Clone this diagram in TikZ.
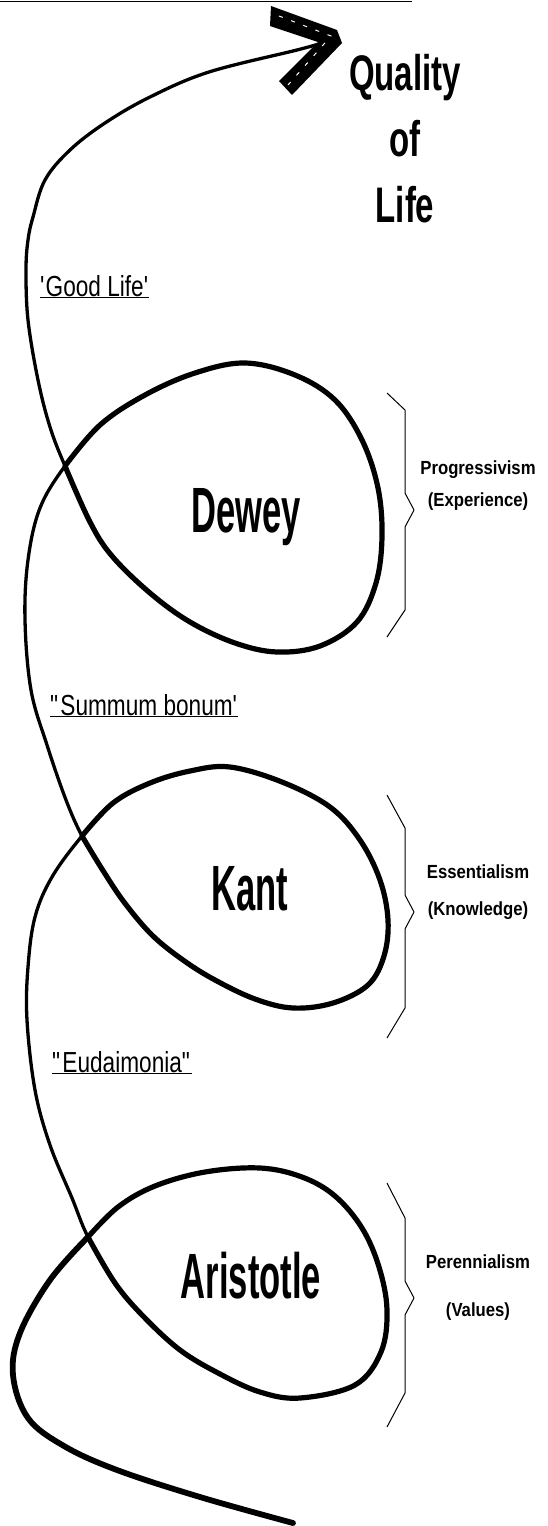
\documentclass[tikz,border=0pt]{standalone}
\usepackage{fontspec}
\newfontfamily\thinkerfont[FakeStretch=0.54]{Liberation Sans}
\newfontfamily\goalfont[FakeStretch=0.66]{Liberation Sans}
\newfontfamily\mottofont[FakeStretch=0.78]{Liberation Sans}
\newfontfamily\schoolfont[FakeStretch=0.88]{Liberation Sans}

\tikzset{
  strand/.style={line width=3.3, line cap=round, line join=round},
  ring/.style={line width=5.2, line cap=round, line join=round},
  bracket/.style={line width=1, line join=bevel},
  thinker/.style={font=\thinkerfont\bfseries\fontsize{64}{64}\selectfont, inner sep=0, anchor=base},
  motto/.style={font=\mottofont\fontsize{29}{29}\selectfont, inner sep=0, anchor=base west},
  school/.style={font=\schoolfont\bfseries\fontsize{19}{32}\selectfont, inner sep=0, anchor=base, align=center},
}

% the three loops, each from its crossing back to it
\def\aristotleloop{(88,1237) (118,1207) (155,1186) (205,1172) (260,1168) (302,1177) (335,1196)
  (362,1228) (379,1267) (387,1310) (381,1352) (355,1385) (300,1398) (260,1392) (220,1374)
  (180,1350) (143,1316) (115,1283) (88,1237)}
\def\kantloop{(82,836) (113,803) (150,783) (190,771) (230,767) (282,782) (330,807) (360,840)
  (380,880) (388,920) (384,956) (368,985) (333,1003) (293,1008) (255,999) (215,980) (183,960)
  (152,935) (124,902) (102,869) (82,836)}
\def\deweyloop{(65,466) (100,425) (145,395) (195,373) (245,363) (295,375) (335,400) (362,440)
  (378,488) (382,537) (376,583) (357,622) (320,646) (277,652) (235,643) (190,622) (150,593)
  (112,556) (90,522) (65,466)}

\begin{document}
\begin{tikzpicture}[x=1pt,y=-1pt,smooth,tension=0.6]
  \useasboundingbox (0,0) rectangle (547,1526);

  % rule left over from the heading
  \draw[line width=1.5] (0,1.5) -- (412,1.5);

  % the spiral, from its tail up to the arrow
  \draw[strand] plot coordinates {
    (293,1523) (200,1497) (117,1470) (64,1446) (28,1418) (13,1375) (20,1333) (50,1280)
    \aristotleloop
    (72,1198) (50,1145) (35,1090) (27,1020) (28,967) (35,917) (52,877)
    \kantloop
    (66,800) (47,745) (31,690) (25,620) (28,560) (40,508)
    \deweyloop
    (50,427) (38,380) (28,320) (26,270) (28,240) (33,217) (45,180) (70,150)
    (105,123) (150,97) (209,72) (297,50) (322,43)};

  % heavier stroke on the loops and the tail
  \foreach \pts in {\aristotleloop, \kantloop, \deweyloop}
    \draw[ring] plot coordinates {\pts};
  \draw[ring, line width=5.8] plot coordinates {
    (88,1237) (50,1280) (20,1333) (13,1375) (28,1418) (64,1446) (117,1470) (200,1497) (293,1523)};

  % arrow head
  \fill (271,6) -- (337,30) -- (342,43) -- (292,95) -- (279,81) -- (318,42) -- (270,26) -- cycle;
  \draw[white, line width=1, dash pattern=on 4 off 9] (279,16) -- (331,36) -- (288,85);

  % right-hand brackets
  \foreach \ya/\yb/\ym/\yc/\yd in {393/410/510/610/637, 795/828/912/1008/1038, 1183/1218/1298/1393/1427}
    \draw[bracket] (387,\ya) -- (405,\yb) -- (405,\ym-17) -- (414,\ym) -- (405,\ym+17)
      -- (405,\yc) -- (387,\yd);

  \node[font=\goalfont\bfseries\fontsize{50}{66}\selectfont, inner sep=0, anchor=base, align=center]
    (quality) at (405,222) {Quality\\of\\Life};

  \node[thinker] (dewey) at (246,532) {Dewey};
  \node[thinker] (kant) at (250,910) {Kant};
  \node[thinker] (aristotle) at (251,1298) {Aristotle};

  \node[motto] (goodlife) at (40,296) {\underline{\textquotesingle Good Life\textquotesingle}};
  \node[motto] (summum) at (50,715) {\underline{\textquotedbl Summum bonum\textquotesingle}};
  \node[motto] (eudaimonia) at (52,1072) {\underline{\textquotedbl Eudaimonia\textquotedbl}};

  \node[school] (progressivism) at (478,506) {Progressivism\\(Experience)};
  \node[school] (essentialism) at (478,915) {Essentialism\\[5pt](Knowledge)};
  \node[school] (perennialism) at (478,1316) {Perennialism\\[16pt](Values)};
\end{tikzpicture}
\end{document}
